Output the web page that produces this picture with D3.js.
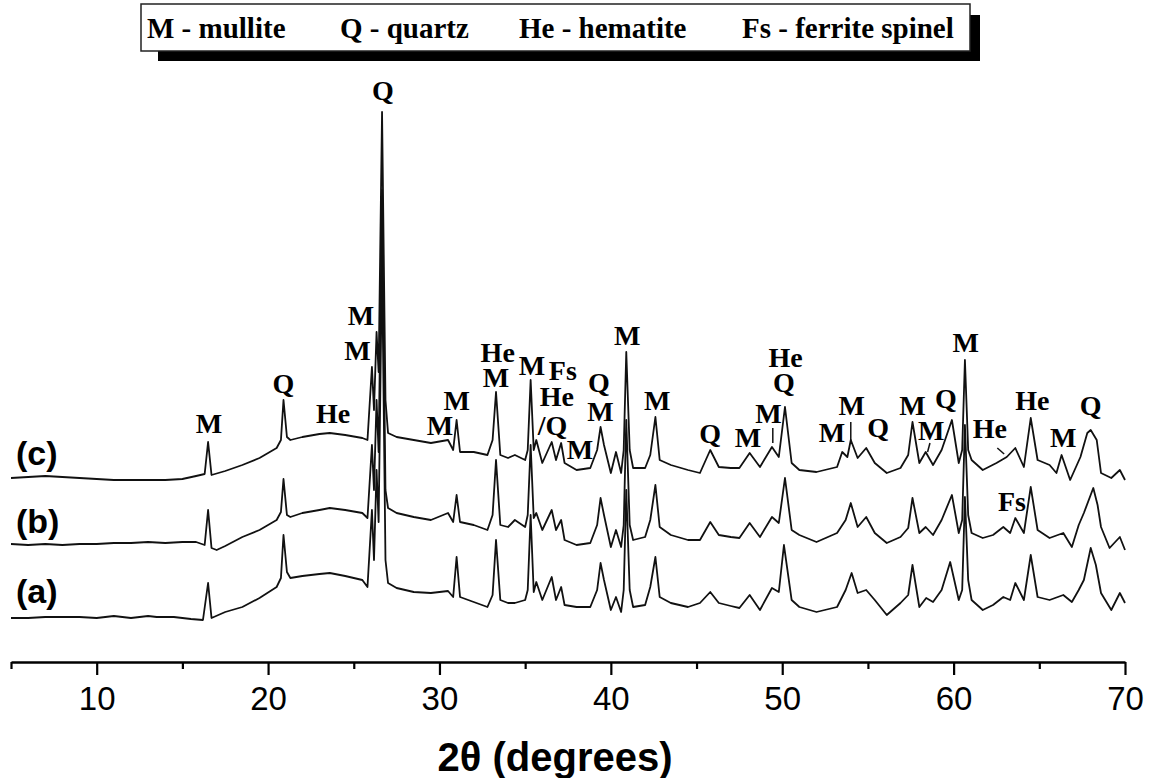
<!DOCTYPE html>
<html>
<head>
<meta charset="utf-8">
<script src="https://cdn.jsdelivr.net/npm/d3@7"></script>
<style>
  body { margin: 0; background: #fff; }
  svg { display: block; }
</style>
</head>
<body>
<script>
const width = 1150, height = 778;

// XRD patterns, [2theta, intensity (a.u.)]
const traceA = [
  [5,44],[6,44],[7,45],[8,45],[9,45],[10,44],[11,46],[12,44],[13,46],[13.5,45],[14.5,45],[15.5,43],
  [16.2,42],[16.5,79],[16.7,44],[17.5,50],[18.5,55],[19.5,64],[20.5,75],[20.75,84],[20.9,127],[21.1,90],
  [21.3,84],[22,86],[23,88],[23.6,89],[24.5,86],[25.5,82],[25.8,75],[26.06,152],[26.18,102],[26.33,192],
  [26.45,140],[26.65,402],[26.85,102],[27,79],[27.5,74],[28.5,70],[29.5,69],[30.5,71],[30.8,65],[31,105],
  [31.2,65],[32,60],[32.8,55],[33.1,67],[33.3,122],[33.55,62],[34,59],[34.4,59],[35,62],[35.15,72],
  [35.32,147],[35.5,70],[35.65,80],[36,62],[36.55,85],[36.8,62],[37.1,75],[37.3,57],[38,55],[38.8,55],
  [39.2,72],[39.4,99],[39.6,82],[40,52],[40.3,65],[40.6,50],[40.75,72],[40.9,172],[41.1,72],[41.3,55],
  [42,57],[42.3,75],[42.6,105],[42.85,65],[43.5,59],[44.5,55],[45.2,59],[45.8,70],[46.3,59],[47,56],
  [47.5,54],[48.1,67],[48.7,52],[49.4,74],[49.8,70],[50.1,117],[50.55,62],[51,55],[52,50],[53.2,55],
  [53.7,72],[54.05,89],[54.4,69],[54.9,72],[55.4,62],[56.1,47],[56.9,59],[57.35,67],[57.6,97],[58,55],
  [58.4,64],[58.8,60],[59.3,72],[59.8,100],[60.3,62],[60.5,72],[60.66,165],[60.85,82],[61.05,62],
  [61.7,52],[62.3,57],[62.9,65],[63.3,62],[63.6,79],[64.1,62],[64.5,107],[64.9,65],[65.6,62],[66.4,67],
  [66.9,60],[67.3,72],[67.6,82],[68,114],[68.3,97],[68.6,69],[69.2,52],[69.7,69],[70,59]
];
const traceB = [
  [5,48],[6,47],[7,48],[8,47],[9,48],[10,48],[11,49],[12,49],[13,50],[14,49],[15,50],[15.8,50],
  [16.3,47],[16.5,82],[16.7,44],[17,42],[17.5,46],[18.5,55],[19.5,62],[20.5,72],[20.75,80],[20.9,113],
  [21.1,77],[21.3,75],[22,79],[23,82],[23.6,84],[24.5,82],[25.5,79],[25.8,74],[26.06,147],[26.18,102],
  [26.33,192],[26.45,140],[26.65,402],[26.85,102],[27,84],[27.5,79],[28.5,75],[29.5,72],[30.5,79],
  [30.8,70],[31,97],[31.2,70],[32,67],[32.8,62],[33.1,77],[33.3,132],[33.55,67],[34,65],[34.4,72],
  [35,65],[35.15,77],[35.32,147],[35.5,74],[35.65,79],[36,62],[36.55,82],[36.8,62],[37.1,72],[37.3,52],
  [38,47],[38.8,49],[39.2,67],[39.4,94],[39.6,77],[40,45],[40.3,62],[40.6,45],[40.75,67],[40.9,172],
  [41.1,67],[41.3,52],[42,55],[42.3,72],[42.6,107],[42.85,65],[43.5,57],[44.5,52],[45.2,52],[45.8,70],
  [46.3,57],[47,55],[47.5,54],[48.1,69],[48.7,55],[49.4,75],[49.8,69],[50.16,114],[50.55,62],[51,57],
  [52,50],[53.2,59],[53.7,72],[54,89],[54.4,65],[54.9,75],[55.4,59],[56.1,49],[56.9,55],[57.35,64],
  [57.6,94],[58,59],[58.37,65],[58.8,57],[59.3,72],[59.9,97],[60.3,59],[60.5,72],[60.66,167],[60.85,77],
  [61.05,59],[61.7,54],[62.3,57],[62.9,65],[63.3,59],[63.6,74],[64.1,59],[64.5,105],[64.9,62],[65.6,54],
  [66.4,59],[66.9,45],[67.3,67],[67.6,79],[68.15,104],[68.4,87],[68.6,65],[69.1,44],[69.7,55],[70,42]
];
const traceC = [
  [5,44],[6,45],[7,46],[8,45],[9,44],[10,43],[11,42],[12,42],[13,42],[14,42],[15,43],[15.8,46],
  [16.3,48],[16.5,80],[16.7,47],[17.5,51],[18.5,57],[19.5,64],[20.5,74],[20.75,82],[20.9,122],[21.1,85],
  [21.3,82],[22,85],[23,88],[23.6,89],[24.5,87],[25.5,84],[25.8,82],[26.06,155],[26.18,112],[26.33,190],
  [26.45,150],[26.65,410],[26.85,122],[27,89],[27.5,85],[28.5,82],[29.5,79],[30.5,82],[30.8,72],
  [31,102],[31.2,70],[32,70],[32.8,67],[33.1,82],[33.3,130],[33.55,67],[34,64],[34.4,67],[35,62],
  [35.15,72],[35.32,142],[35.5,72],[35.65,82],[36,59],[36.55,80],[36.8,62],[37.1,79],[37.3,59],[38,52],
  [38.8,54],[39.2,72],[39.4,95],[39.6,77],[40,49],[40.3,70],[40.6,49],[40.75,72],[40.9,170],[41.1,72],
  [41.3,54],[42,54],[42.3,67],[42.6,105],[42.85,62],[43.5,57],[44.5,52],[45.2,49],[45.8,72],[46.3,55],
  [47,54],[47.5,54],[48.1,69],[48.7,55],[49.4,75],[49.8,65],[50.16,115],[50.55,59],[51,52],[52,50],
  [53.2,55],[53.5,70],[53.8,65],[54,82],[54.4,64],[54.9,74],[55.4,59],[56.1,49],[56.9,54],[57.35,67],
  [57.6,100],[58,59],[58.37,70],[58.8,57],[59.3,72],[59.9,102],[60.3,59],[60.5,72],[60.66,162],
  [60.85,72],[61.05,62],[61.7,52],[62.5,59],[63.1,65],[63.6,74],[64.1,55],[64.5,104],[64.9,62],
  [65.6,57],[66,49],[66.3,67],[66.8,42],[67.4,65],[67.8,89],[68,92],[68.35,82],[68.6,49],[69.2,44],
  [69.7,52],[70,42]
];
const traces = [traceA, traceB, traceC];
const sampleNames = ["(a)", "(b)", "(c)"];
const stackOffsets = [0, 70, 140];

const majorTicks = [10, 20, 30, 40, 50, 60, 70];
const minorTicks = [5, 15, 25, 35, 45, 55, 65];

const phaseKey = ["M - mullite", "Q - quartz", "He - hematite", "Fs - ferrite spinel"];

// phase marks: [text, 2theta, level in plot units]
const peakLabels = [
  ["M",16.55,229],["Q",20.9,269],["He",23.8,239],["M",25.42,337],["M",25.22,302],["Q",26.7,562],
  ["M",30.03,227],["M",31.0,252],["He",33.4,300],["M",33.3,275],["M",35.4,287],["Fs",37.2,282],
  ["He",36.85,256],["/Q",36.6,227],["M",38.2,203],["Q",39.3,270],["M",39.4,241],["M",40.95,317],
  ["M",42.7,252],["Q",45.8,219],["M",48.0,215],["M",49.2,239],["He",50.2,295],["Q",50.1,270],
  ["M",52.9,220],["M",54.05,247],["Q",55.6,225],["M",57.6,247],["M",58.7,222],["Q",59.55,254],
  ["M",60.7,310],["He",62.12,224],["He",64.6,252],["Fs",63.4,151],["M",66.4,215],["Q",68.0,247]
];
// short leader strokes: [2theta1, level1, 2theta2, level2]
const leaders = [
  [49.45,234,49.45,219],[54.0,240,54.0,220],[58.62,219,58.48,210],[62.55,214,62.95,208]
];

const svg = d3.select("body").append("svg")
  .attr("width", width)
  .attr("height", height);

svg.append("rect").attr("width", width).attr("height", height).attr("fill", "#fff");

const x = d3.scaleLinear().domain([5, 70]).range([11, 1125]);
const y = d3.scaleLinear().domain([0, 650]).range([662, 12]);

// traces
const line = d3.line().x(d => x(d[0]));
traces.forEach((tr, i) => {
  svg.append("path")
    .datum(tr)
    .attr("d", line.y(d => y(d[1] + stackOffsets[i])))
    .attr("fill", "none")
    .attr("stroke", "#111")
    .attr("stroke-width", 1.8)
    .attr("stroke-linejoin", "round");
});

// sample names
svg.selectAll(".sample")
  .data(sampleNames)
  .enter().append("text")
  .attr("class", "sample")
  .attr("x", 16)
  .attr("y", (d, i) => [603, 533, 465][i])
  .attr("font-family", "'Liberation Sans', Arial, sans-serif")
  .attr("font-weight", "bold")
  .attr("font-size", 34)
  .text(d => d);

// x axis
const axisG = svg.append("g").attr("transform", "translate(0,662)");
axisG.append("g")
  .call(d3.axisBottom(x).tickValues(minorTicks).tickSize(7).tickSizeOuter(0).tickFormat(""))
  .call(g => g.select(".domain").remove())
  .selectAll("line").attr("stroke-width", 2.2);
const major = axisG.append("g")
  .call(d3.axisBottom(x).tickValues(majorTicks).tickSize(13).tickSizeOuter(0).tickPadding(12));
major.select(".domain").attr("stroke-width", 2.5);
major.selectAll("line").attr("stroke-width", 2.2);
major.selectAll("text")
  .attr("font-family", "'Liberation Sans', Arial, sans-serif")
  .attr("font-size", 33)
  .attr("fill", "#000");

svg.append("text")
  .attr("x", 555)
  .attr("y", 771)
  .attr("text-anchor", "middle")
  .attr("font-family", "'Liberation Sans', Arial, sans-serif")
  .attr("font-weight", "bold")
  .attr("font-size", 40)
  .text("2θ (degrees)");

// phase labels
const labelFont = "'Liberation Serif', 'Times New Roman', serif";
svg.selectAll(".peak")
  .data(peakLabels)
  .enter().append("text")
  .attr("class", "peak")
  .attr("x", d => x(d[1]))
  .attr("y", d => y(d[2]))
  .attr("text-anchor", "middle")
  .attr("font-family", labelFont)
  .attr("font-weight", "bold")
  .attr("font-size", 28)
  .text(d => d[0]);

svg.selectAll(".leader")
  .data(leaders)
  .enter().append("line")
  .attr("x1", d => x(d[0])).attr("y1", d => y(d[1]))
  .attr("x2", d => x(d[2])).attr("y2", d => y(d[3]))
  .attr("stroke", "#111")
  .attr("stroke-width", 1.5);

// key box with drop shadow
const key = svg.append("g");
key.append("rect")
  .attr("x", 158).attr("y", 15).attr("width", 822).attr("height", 46)
  .attr("fill", "#000");
key.append("rect")
  .attr("x", 141).attr("y", 4).attr("width", 829).attr("height", 47)
  .attr("fill", "#fff").attr("stroke", "#222").attr("stroke-width", 1.5);
const keyX = [147, 340, 519, 742];
key.selectAll("text")
  .data(phaseKey)
  .enter().append("text")
  .attr("x", (d, i) => keyX[i])
  .attr("y", 38)
  .attr("font-family", labelFont)
  .attr("font-weight", "bold")
  .attr("font-size", 29)
  .text(d => d);
</script>
</body>
</html>
